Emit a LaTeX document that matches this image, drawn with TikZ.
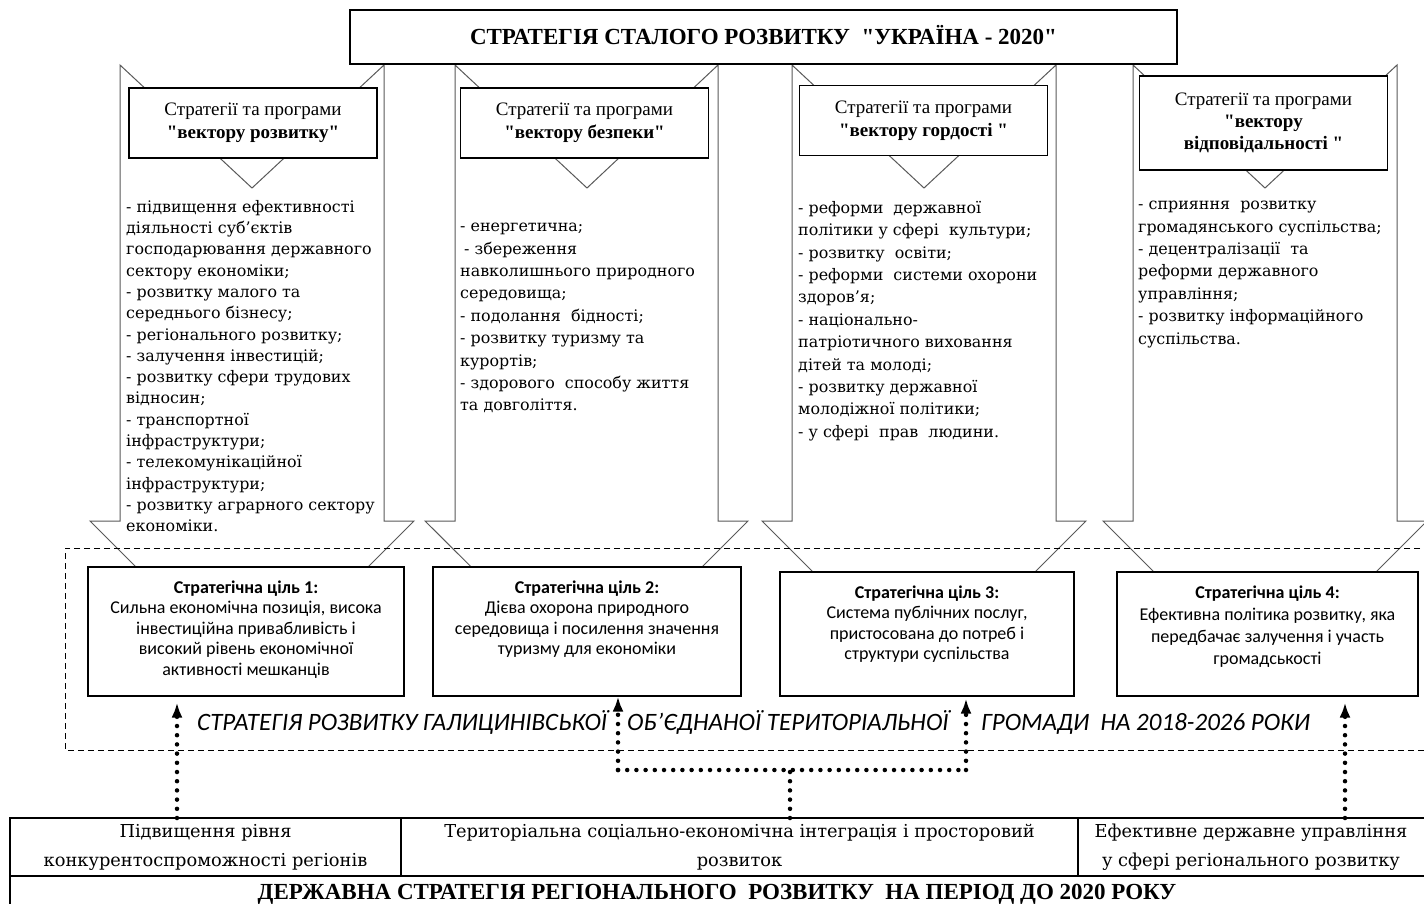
\documentclass[tikz,border=0pt]{standalone}
\usepackage{fontspec}
\setmainfont{DejaVu Serif}
\newfontfamily\narrowserif{Liberation Serif}
\newfontfamily\calfont{Carlito}
\usetikzlibrary{arrows.meta}

\tikzset{
  bigarrow/.style={draw=black!65, line width=1pt, fill=white},
  titlebox/.style={draw, fill=white, line width=1.1pt, minimum width=827pt, minimum height=54pt, inner sep=0pt,
    font=\narrowserif\bfseries\fontsize{23}{27}\selectfont},
  prog/.style={draw, fill=white, line width=1.1pt, minimum width=248pt, minimum height=70pt, align=center, inner sep=0pt,
    font=\narrowserif\fontsize{19}{23}\selectfont},
  list/.style={anchor=north west, align=left, inner sep=0pt},
  goal/.style={draw, fill=white, line width=1.1pt, inner sep=0pt},
  goaltext/.style={anchor=north, align=center, inner sep=0pt, font=\calfont\fontsize{18}{20.5}\selectfont},
  capt/.style={anchor=base west, inner sep=0pt, font=\calfont\itshape\fontsize{25}{28}\selectfont},
  frame/.style={line width=1pt, dash pattern=on 6pt off 4pt},
  tbl/.style={line width=1.1pt},
  cell/.style={align=center, inner sep=0pt, font=\fontsize{17.8}{29}\selectfont},
  dotline/.style={line width=4.5pt, dash pattern=on 0pt off 9.2pt, line cap=round},
  dotarrow/.style={dotline, -{Latex[length=15pt,width=11pt]}}
}

\begin{document}
\begin{tikzpicture}[x=1pt, y=-1pt]
  \useasboundingbox (0,0) rectangle (1424,904);

  % four notched arrows
  \draw[bigarrow] (120,65) -- (252,188) -- (384,65) -- (384,521) -- (414,521) -- (252,683) -- (90,521) -- (120,521) -- cycle;
  \draw[bigarrow] (455,65) -- (587,188) -- (718,65) -- (718,521) -- (748,521) -- (587,682) -- (425,521) -- (455,521) -- cycle;
  \draw[bigarrow] (792,65) -- (924,188) -- (1056,65) -- (1056,521) -- (1086,521) -- (924,683) -- (762,521) -- (792,521) -- cycle;
  \draw[bigarrow] (1133,65) -- (1265,188) -- (1397,65) -- (1397,521) -- (1427,521) -- (1265,683) -- (1103,521) -- (1133,521) -- cycle;

  \node[titlebox, text depth=4pt] (title) at (763.5,37) {СТРАТЕГІЯ СТАЛОГО РОЗВИТКУ \ "УКРАЇНА - 2020"};

  \node[prog] (p1) at (253,123) {Стратегії та програми\\\textbf{"вектору розвитку"}};
  \node[prog] (p2) at (584.5,123) {Стратегії та програми\\\textbf{"вектору безпеки"}};
  \node[prog] (p3) at (923.5,120.5) {Стратегії та програми\\\textbf{"вектору гордості "}};
  \node[prog, minimum height=94pt, font=\narrowserif\fontsize{19}{22}\selectfont] (p4) at (1263.5,123)
    {Стратегії та програми\\\textbf{"вектору}\\\textbf{відповідальності "}};

  \node[list, font=\fontsize{15.9}{21.3}\selectfont] (l1) at (126,200) {- підвищення ефективності\\діяльності суб’єктів\\господарювання державного\\сектору економіки;\\- розвитку малого та\\середнього бізнесу;\\- регіонального розвитку;\\- залучення інвестицій;\\- розвитку сфери трудових\\відносин;\\- транспортної\\інфраструктури;\\- телекомунікаційної\\інфраструктури;\\- розвитку аграрного сектору\\економіки.};
  \node[list, font=\fontsize{15.9}{22.4}\selectfont] (l2) at (460,223) {- енергетична;\\\hspace{4pt}- збереження\\навколишнього природного\\середовища;\\- подолання \ бідності;\\- розвитку туризму та\\курортів;\\- здорового \ способу життя\\та довголіття.};
  \node[list, font=\fontsize{15.9}{22.4}\selectfont] (l3) at (798,201) {- реформи \ державної\\політики у сфері \ культури;\\- розвитку \ освіти;\\- реформи \ системи охорони\\здоров'я;\\- національно-\\патріотичного виховання\\дітей та молоді;\\- розвитку державної\\молодіжної політики;\\- у сфері \ прав \ людини.};
  \node[list, font=\fontsize{15.9}{22.4}\selectfont] (l4) at (1138,201) {- сприяння \ розвитку\\громадянського суспільства;\\- децентралізації \ та\\реформи державного\\управління;\\- розвитку інформаційного\\суспільства.};

  % dashed frame of the community strategy
  \draw[frame] (1440,548) -| (65,750) -- (1440,750);

  \node[goal, minimum width=316pt, minimum height=129pt] (g1) at (246,631.5) {};
  \node[goal, minimum width=308pt, minimum height=129pt] (g2) at (587,631.5) {};
  \node[goal, minimum width=294pt, minimum height=124pt] (g3) at (927,634) {};
  \node[goal, minimum width=301pt, minimum height=124pt] (g4) at (1267.5,634) {};

  \node[goaltext] (g1t) at ([yshift=-14pt]g1.north) {\textbf{Стратегічна ціль 1:}\\Сильна економічна позиція, висока\\інвестиційна привабливість і\\високий рівень економічної\\активності мешканців};
  \node[goaltext] (g2t) at ([yshift=-14pt]g2.north) {\textbf{Стратегічна ціль 2:}\\Дієва охорона природного\\середовища і посилення значення\\туризму для економіки};
  \node[goaltext] (g3t) at ([yshift=-14pt]g3.north) {\textbf{Стратегічна ціль 3:}\\Система публічних послуг,\\пристосована до потреб і\\структури суспільства};
  \node[goaltext, font=\calfont\fontsize{18}{22}\selectfont] (g4t) at ([yshift=-14pt]g4.north) {\textbf{Стратегічна ціль 4:}\\Ефективна політика розвитку, яка\\передбачає залучення і участь\\громадськості};

  \node[capt] (c1) at (197,730) {СТРАТЕГІЯ РОЗВИТКУ ГАЛИЦИНІВСЬКОЇ};
  \node[capt] (c2) at (627,730) {ОБ’ЄДНАНОЇ ТЕРИТОРІАЛЬНОЇ};
  \node[capt] (c3) at (981,730) {ГРОМАДИ \ НА 2018-2026 РОКИ};

  % state strategy table
  \draw[tbl] (10,930) |- (1440,818);
  \draw[tbl] (10,876) -- (1440,876);
  \draw[tbl] (401,818) -- (401,876);
  \draw[tbl] (1078,818) -- (1078,876);

  \node[cell] (b1) at (205.5,847) {Підвищення рівня\\конкурентоспроможності регіонів};
  \node[cell] (b2) at (739.5,847) {Територіальна соціально-економічна інтеграція і просторовий\\розвиток};
  \node[cell] (b3) at (1251,847) {Ефективне державне управління\\у сфері регіонального розвитку};
  \node[cell, font=\narrowserif\bfseries\fontsize{23}{26}\selectfont, anchor=base] (bt) at (717,899) {ДЕРЖАВНА СТРАТЕГІЯ РЕГІОНАЛЬНОГО \ РОЗВИТКУ \ НА ПЕРІОД ДО 2020 РОКУ};

  \coordinate (s1) at (177,818);
  \coordinate (s2) at (790,818);
  \coordinate (s3) at (1345,818);
  \coordinate (j1) at (618,770);
  \coordinate (j2) at (966,770);

  \draw[dotarrow, shorten >=6pt] (s1) -- (s1 |- g1.south);
  \draw[dotline] (s2) -- (s2 |- j1);
  \draw[dotline] (j1) -- (j2);
  \draw[dotarrow] (j1) -- (j1 |- g2.south);
  \draw[dotarrow, shorten >=2pt] (j2) -- (j2 |- g3.south);
  \draw[dotarrow, shorten >=6pt] (s3) -- (s3 |- g4.south);
\end{tikzpicture}
\end{document}
